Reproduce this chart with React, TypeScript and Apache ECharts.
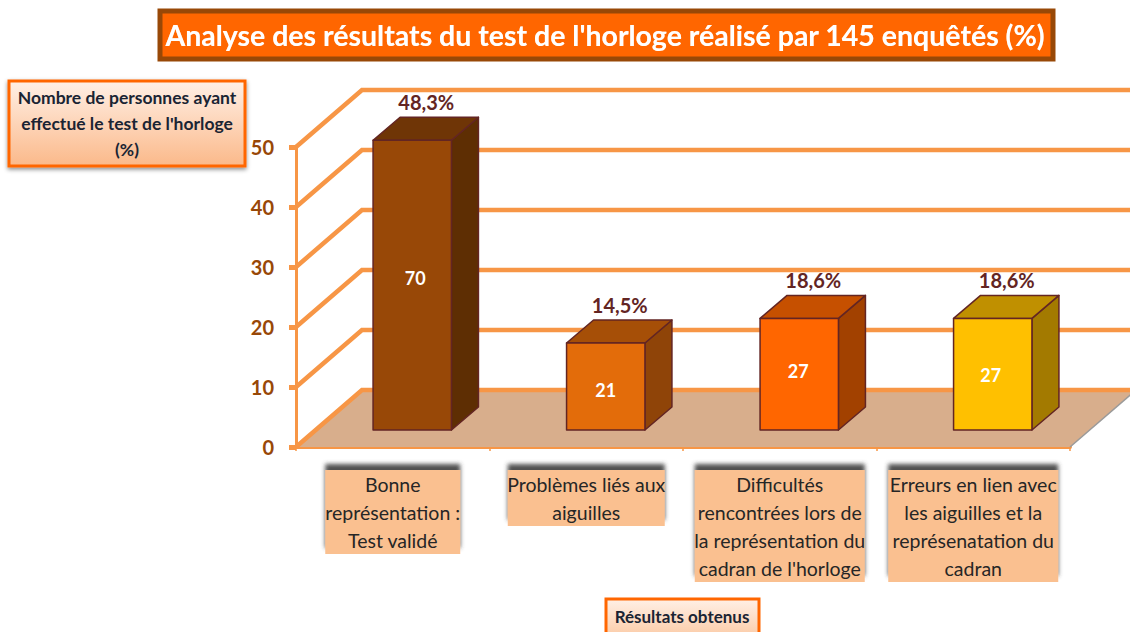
import React, { useEffect, useRef } from "react";
import * as echarts from "echarts";

const titleText = "Analyse des résultats du test de l'horloge réalisé par 145 enquêtés (%)";
const yAxisTitle = "Nombre de personnes ayant\neffectué le test de l'horloge\n(%)";
const xAxisTitle = "Résultats obtenus";
const categories = [
  "Bonne\nreprésentation :\nTest validé",
  "Problèmes liés aux\naiguilles",
  "Difficultés\nrencontrées lors de\nla représentation du\ncadran de l'horloge",
  "Erreurs en lien avec\nles aiguilles et la\nreprésenatation du\ncadran",
];
const percentages = [48.3, 14.5, 18.6, 18.6];
const counts = [70, 21, 27, 27];
const gridValues = [0, 10, 20, 30, 40, 50];
const frontColors = ["#984807", "#E36C0A", "#FF6600", "#FFC000"];
const topColors = ["#6F3506", "#A64F07", "#C65000", "#C09000"];
const sideColors = ["#5E2E03", "#8F4408", "#A24100", "#A37A00"];
const boxWidths = [135, 157, 170, 170];
const countNudgeX = [3, 0, -1, -2];
const countNudgeY = [-7, 3, -3, 1];

const FONT = "Lato";
const WALL_DX = 66;
const WALL_DY = -57;
const ORANGE = "#F79646";

export default function App() {
  const ref = useRef<HTMLDivElement>(null);
  useEffect(() => {
    document.body.style.margin = "0";
    const chart = echarts.init(ref.current!, null, { renderer: "svg" });
    const option: any = {
      animation: false,
      backgroundColor: "#fff",
      title: {
        text: titleText,
        left: 600,
        top: 15,
        textAlign: "center",
        z: 20,
        textStyle: { color: "#fff", fontFamily: FONT, fontWeight: "bold", fontSize: 28.5, textShadowColor: "rgba(255,255,255,0.5)", textShadowBlur: 1 },
      },
      grid: { left: 296, right: 60, top: 147, bottom: 185 },
      xAxis: {
        type: "category",
        data: categories.map((c, i) => ({
          value: c,
          textStyle: { width: boxWidths[i] },
        })),
        axisLine: { lineStyle: { color: ORANGE, width: 4 } },
        axisTick: { show: true, alignWithLabel: false, length: 4, lineStyle: { color: ORANGE, width: 1.5 } },
        axisLabel: {
          interval: 0,
          margin: 23,
          color: "#262626",
          fontFamily: FONT,
          fontSize: 19.5,
          lineHeight: 28,
          align: "center",
          verticalAlign: "top",
          backgroundColor: "#FAC090",
          shadowColor: "rgba(60,60,60,0.9)",
          shadowBlur: 4,
          shadowOffsetY: -6,
        },
      },
      yAxis: {
        type: "value",
        min: 0,
        max: 50,
        interval: 10,
        axisLine: { show: true, lineStyle: { color: ORANGE, width: 3 } },
        axisTick: { show: true, length: 7, lineStyle: { color: ORANGE, width: 5 } },
        splitLine: { show: false },
        axisLabel: { margin: 22, color: "#984807", fontFamily: FONT, fontWeight: "bold", fontSize: 20 },
      },
      series: [
        {
          type: "custom",
          name: "walls",
          z: 1,
          silent: true,
          clip: false,
          data: gridValues.map((v) => [0, v]),
          renderItem: (params: any, api: any) => {
            const v = api.value(1);
            const rect = params.coordSys;
            const p = api.coord([0, v]);
            const x0 = rect.x;
            const x1 = rect.x + rect.width;
            const children: any[] = [];
            if (v === 0) {
              children.push({
                type: "polygon",
                shape: { points: [[x0, p[1]], [x0 + WALL_DX, p[1] + WALL_DY], [x1 + WALL_DX, p[1] + WALL_DY], [x1, p[1]]] },
                style: { fill: "#D8AE8C" },
              });
              children.push({
                type: "line",
                shape: { x1, y1: p[1], x2: x1 + WALL_DX, y2: p[1] + WALL_DY },
                style: { stroke: "#9A9A9A", lineWidth: 1.5 },
              });
            }
            children.push({
              type: "polyline",
              shape: { points: [[x0, p[1]], [x0 + WALL_DX, p[1] + WALL_DY], [x1 + WALL_DX, p[1] + WALL_DY]] },
              style: { stroke: ORANGE, lineWidth: 4.5, fill: "none" },
            });
            return { type: "group", children };
          },
        },
        {
          type: "custom",
          name: "Résultats",
          z: 5,
          clip: false,
          data: percentages.map((v, i) => [i, v]),
          encode: { x: 0, y: 1 },
          renderItem: (params: any, api: any) => {
            const i = api.value(0);
            const v = api.value(1);
            const bandW = api.size([1, 0])[0];
            const barW = bandW * 0.405;
            const centre = api.coord([i, 0]);
            const top = api.coord([i, v]);
            const shiftX = 19.5;
            const shiftY = -17;
            const l = centre[0] + shiftX - barW / 2;
            const r = l + barW;
            const b = centre[1] + shiftY;
            const t = top[1] + shiftY;
            const dx = 27;
            const dy = -23;
            const stroke = { stroke: "#632523", lineWidth: 1.5, lineJoin: "round" };
            return {
              type: "group",
              children: [
                {
                  type: "polygon",
                  shape: { points: [[r, t], [r + dx, t + dy], [r + dx, b + dy], [r, b]] },
                  style: { fill: sideColors[i], ...stroke },
                },
                {
                  type: "polygon",
                  shape: { points: [[l, t], [l + dx, t + dy], [r + dx, t + dy], [r, t]] },
                  style: { fill: topColors[i], ...stroke },
                },
                {
                  type: "rect",
                  shape: { x: l, y: t, width: barW, height: b - t },
                  style: { fill: frontColors[i], ...stroke },
                },
                {
                  type: "text",
                  x: (l + r) / 2 + countNudgeX[i],
                  y: (t + b) / 2 + countNudgeY[i],
                  style: {
                    text: String(counts[i]),
                    fill: "#fff",
                    font: `bold 18px ${FONT}`,
                    align: "center",
                    verticalAlign: "middle",
                  },
                },
                {
                  type: "text",
                  x: (l + r) / 2 + 14,
                  y: t + dy - 15,
                  style: {
                    text: v.toFixed(1).replace(".", ",") + "%",
                    fill: "#632523",
                    font: `bold 20px ${FONT}`,
                    align: "center",
                    verticalAlign: "middle",
                  },
                },
              ],
            };
          },
        },
      ],
      graphic: [
        {
          type: "rect",
          z: 10,
          shape: { x: 160, y: 11, width: 893, height: 48 },
          style: { fill: "#FF6600", stroke: "#984807", lineWidth: 5 },
        },
        {
          type: "rect",
          z: 10,
          shape: { x: 9, y: 81, width: 236, height: 85 },
          style: {
            fill: { type: "linear", x: 0, y: 0, x2: 0, y2: 1, colorStops: [{ offset: 0, color: "#FFF0E6" }, { offset: 1, color: "#FBB98A" }] },
            stroke: "#FF6600",
            lineWidth: 3,
            shadowColor: "rgba(0,0,0,0.45)",
            shadowBlur: 4,
            shadowOffsetY: 2,
          },
        },
        {
          type: "text",
          z: 11,
          x: 127,
          y: 123,
          style: {
            text: yAxisTitle,
            fill: "#1A2433",
            font: `bold 17.5px ${FONT}`,
            lineHeight: 26,
            align: "center",
            verticalAlign: "middle",
          },
        },
        {
          type: "rect",
          z: 10,
          shape: { x: 606, y: 599, width: 153, height: 40 },
          style: {
            fill: { type: "linear", x: 0, y: 0, x2: 0, y2: 1, colorStops: [{ offset: 0, color: "#FFF0E6" }, { offset: 1, color: "#FBC9A3" }] },
            stroke: "#FF6600",
            lineWidth: 3,
          },
        },
        {
          type: "text",
          z: 11,
          x: 682,
          y: 616,
          style: { text: xAxisTitle, fill: "#1A2433", font: `bold 17px ${FONT}`, align: "center", verticalAlign: "middle" },
        },
      ],
    };
    chart.setOption(option);
    return () => chart.dispose();
  }, []);
  return <div ref={ref} style={{ width: 1130, height: 632 }} />;
}
